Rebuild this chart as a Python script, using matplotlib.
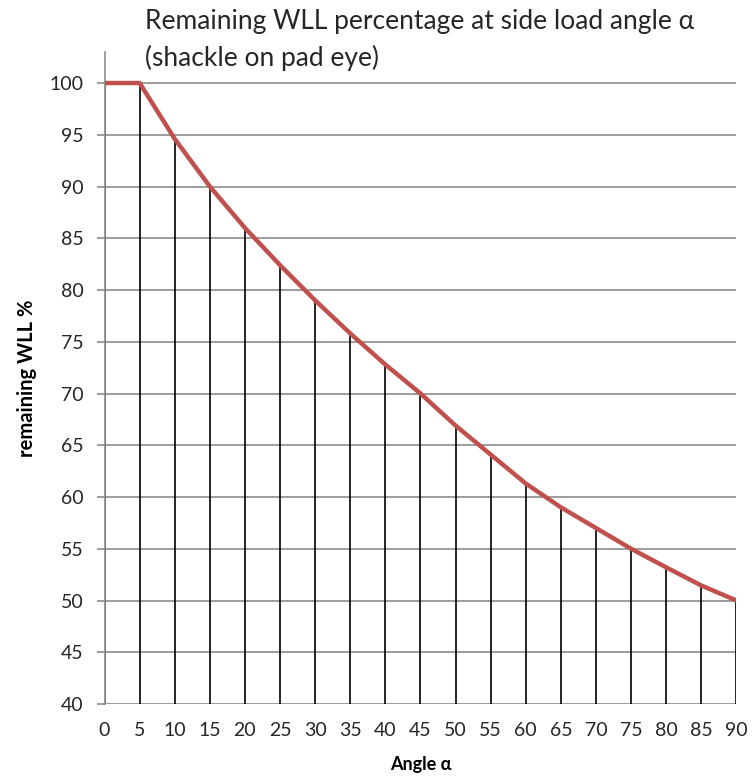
import matplotlib
matplotlib.use("Agg")
import matplotlib.pyplot as plt

# 侧向载荷角度与剩余 WLL 百分比
angle = [0, 5, 10, 15, 20, 25, 30, 35, 40, 45, 50, 55, 60, 65, 70, 75, 80, 85, 90]
wll = [100, 100, 94.6, 90, 86, 82.4, 79, 75.8, 72.8, 70, 66.9, 64.1, 61.3, 59, 57, 55, 53.2, 51.45, 50]
y_ticks = list(range(40, 101, 5))

plt.rcParams['font.family'] = ['Lato', 'DejaVu Sans']

fig = plt.figure(figsize=(7.53, 7.78), dpi=100)
ax = fig.add_axes([0.1388, 0.0951, 0.978 - 0.1388, 0.9332 - 0.0951])

ax.set_xlim(0, 90)
ax.set_ylim(40, 103)
ax.set_yticks(y_ticks)
ax.set_xticks(angle)

# 水平网格线
for v in y_ticks:
    ax.axhline(v, color='#8c8c8c', lw=1.2, zorder=1)

# 竖直落线
ax.vlines(angle, 40, wll, colors='black', lw=1.2, zorder=2)

# 曲线
ax.plot(angle, wll, color='#c0504d', lw=3.2, solid_capstyle='butt', zorder=3)

for s in ['top', 'right', 'bottom']:
    ax.spines[s].set_visible(False)
ax.spines['left'].set_color('#8c8c8c')
ax.spines['left'].set_linewidth(1.2)

ax.tick_params(axis='y', length=6, width=1.2, color='#8c8c8c', pad=9, labelsize=14, labelcolor='#262626')
ax.tick_params(axis='x', length=0, pad=13, labelsize=14, labelcolor='#262626')

ax.set_xlabel('Angle α', fontsize=13, fontweight='bold', labelpad=12)
ax.set_ylabel('remaining WLL %', fontsize=14.5, fontweight='bold', labelpad=9)

fig.text(145 / 753, 1 - 9 / 778, 'Remaining WLL percentage at side load angle α\n(shackle on pad eye)',
         fontsize=19, ha='left', va='top', color='#262626', linespacing=1.5)

fig.savefig('out.png', dpi=100)
